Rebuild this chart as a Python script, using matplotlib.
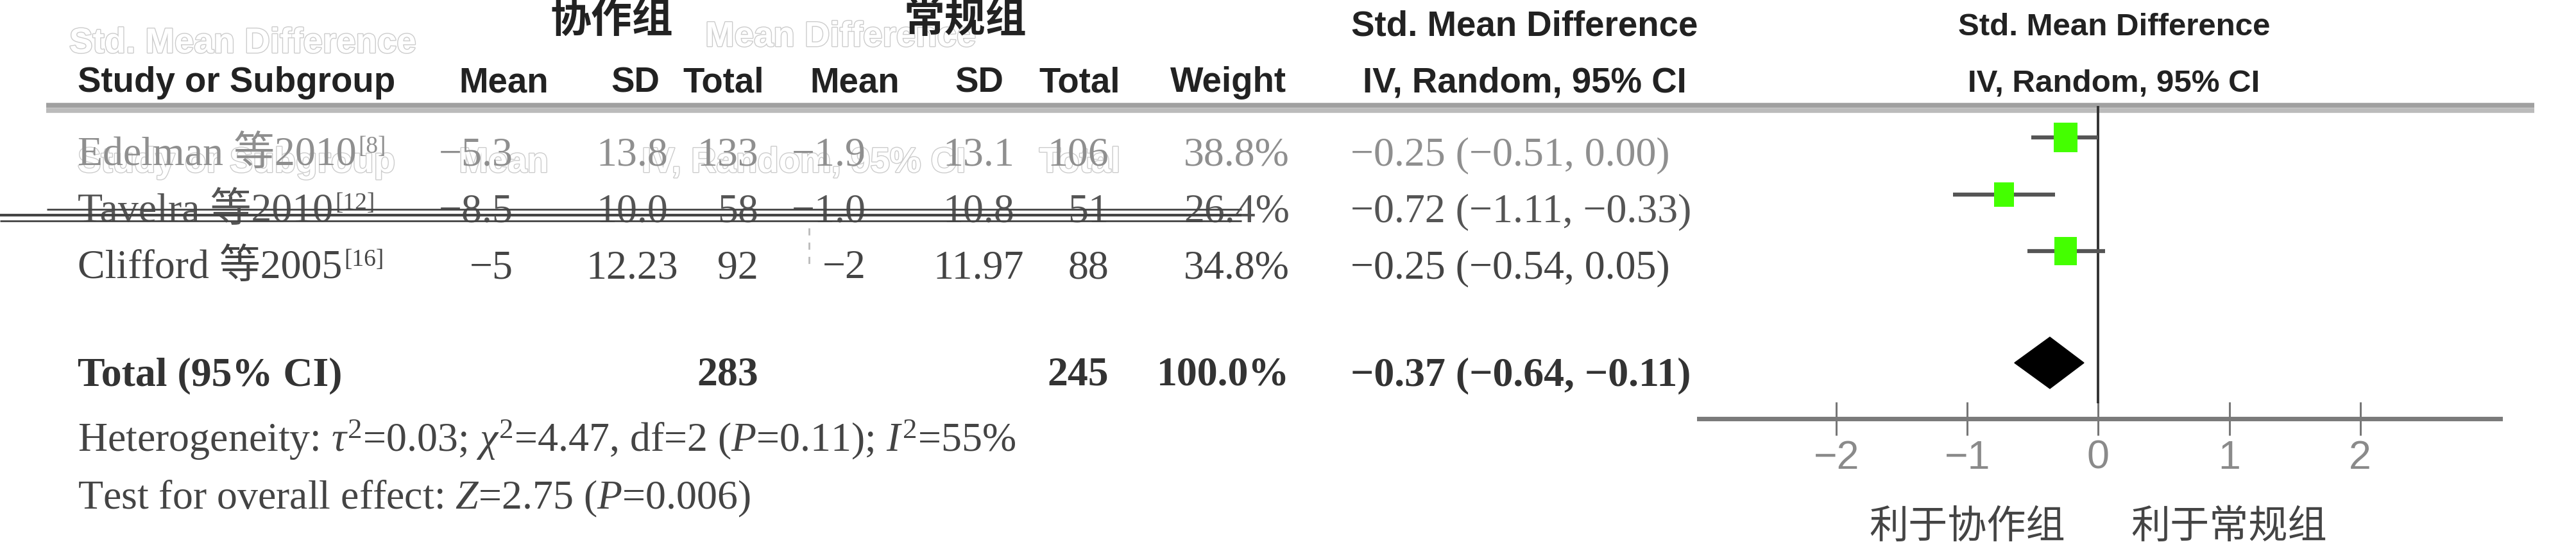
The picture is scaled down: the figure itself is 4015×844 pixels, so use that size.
import matplotlib
matplotlib.use('Agg')
import numpy as np
import matplotlib.pyplot as plt
from matplotlib import font_manager
from matplotlib.patches import Rectangle, Polygon
import matplotlib.patheffects as pe

plt.rcParams['mathtext.fontset'] = 'custom'
plt.rcParams['mathtext.rm'] = 'Liberation Serif'
plt.rcParams['mathtext.it'] = 'Liberation Serif:italic'
plt.rcParams['mathtext.bf'] = 'Liberation Serif:bold'

# data
studies = ['Edelman 等2010', 'Tavelra 等2010', 'Clifford 等2005']
study_refs = ['[8]', '[12]', '[16]']
exp_mean = ['−5.3', '−8.5', '−5']
exp_sd = ['13.8', '10.0', '12.23']
exp_n = [133, 58, 92]
ctl_mean = ['−1.9', '−1.0', '−2']
ctl_sd = ['13.1', '10.8', '11.97']
ctl_n = [106, 51, 88]
weight = [38.8, 26.4, 34.8]
smd = [-0.25, -0.72, -0.25]
ci_lo = [-0.51, -1.11, -0.54]
ci_hi = [0.00, -0.33, 0.05]
total_exp_n, total_ctl_n = 283, 245
total_smd, total_lo, total_hi = -0.37, -0.64, -0.11
heterogeneity = 'Heterogeneity: $\\tau^2$=0.03; $\\chi^2$=4.47, df=2 ($P$=0.11); $I^2$=55%'
overall = 'Test for overall effect: $Z$=2.75 ($P$=0.006)'
ticks = [-2, -1, 0, 1, 2]
favours = ['利于协作组', '利于常规组']


def fmt(v):
    return f'{v:.2f}'.replace('-', '−')


names = {f.name for f in font_manager.fontManager.ttflist}
if 'Liberation Sans Narrow' in names:
    NARROW, nscale = ['Liberation Sans Narrow'], 1.0
else:
    NARROW, nscale = ['Liberation Sans'], 0.82
SERIF = ['Liberation Serif', 'Noto Sans CJK SC']
CJK = ['Noto Sans CJK SC']

W, H = 4016, 844
fig = plt.figure(figsize=(W / 100, H / 100), dpi=100)
ax = fig.add_axes([0, 0, 1, 1])
ax.set_xlim(0, W)
ax.set_ylim(H, 0)
ax.axis('off')

hsize = 48 * nscale
ssize = 46
ghost = [pe.withStroke(linewidth=2, foreground='#cccccc')]
gkw = dict(fontsize=hsize, family=NARROW, weight='bold', color='white', path_effects=ghost, zorder=1)

# ghost remnants of overlapping text in the source image
ax.text(108, 82, 'Std. Mean Difference', **gkw)
ax.text(1310, 72, 'Mean Difference', ha='center', **gkw)
ax.text(121, 268, 'Study or Subgroup', **gkw)
ax.text(785, 268, 'Mean', ha='center', **gkw)
ax.text(1000, 268, 'IV, Random, 95% CI', **gkw)
ax.text(1683, 268, 'Total', ha='center', **gkw)

# header
ax.text(953, 50, '协作组', fontsize=46, family=CJK, weight='bold', color='#222', ha='center')
ax.text(1504, 50, '常规组', fontsize=46, family=CJK, weight='bold', color='#222', ha='center')
ax.text(2376, 55, 'Std. Mean Difference', fontsize=hsize, family=NARROW, weight='bold',
        color='#222', ha='center')
ax.text(121, 143, 'Study or Subgroup', fontsize=hsize, family=NARROW, weight='bold', color='#222')
for x, lab in [(785, 'Mean'), (990, 'SD'), (1128, 'Total'), (1332, 'Mean'),
               (1526, 'SD'), (1683, 'Total'), (1914, 'Weight'), (2376, 'IV, Random, 95% CI')]:
    ax.text(x, 143, lab, fontsize=hsize, family=NARROW, weight='bold', color='#222', ha='center')

# separator
ax.hlines(163.5, 72, 3950, color='#a0a0a0', lw=5.5)
ax.hlines(171.5, 72, 3950, color='#bbbbbb', lw=5.5)

# study rows
row_base = [257, 345, 433]
row_col = ['#8f8f8f', '#555555', '#444444']
for i in range(len(studies)):
    y, c = row_base[i], row_col[i]
    kw = dict(fontsize=ssize, family=SERIF, color=c, zorder=2)
    t = ax.text(121, y, studies[i], **kw)
    ax.annotate(study_refs[i], xy=(1, 0), xycoords=t, xytext=(2, 24), textcoords='offset points',
                fontsize=27, family=SERIF, color=c, va='baseline')
    ax.text(800, y, exp_mean[i], ha='right', **kw)
    ax.text(985, y, exp_sd[i], ha='center', **kw)
    ax.text(1182, y, str(exp_n[i]), ha='right', **kw)
    ax.text(1350, y, ctl_mean[i], ha='right', **kw)
    ax.text(1525, y, ctl_sd[i], ha='center', **kw)
    ax.text(1728, y, str(ctl_n[i]), ha='right', **kw)
    ax.text(2010, y, f'{weight[i]:.1f}%', ha='right', **kw)
    ax.text(2105, y, f'{fmt(smd[i])} ({fmt(ci_lo[i])}, {fmt(ci_hi[i])})', **kw)

# strike-through artefacts across the second row
ax.hlines([326, 335, 344], [73, 0, 0], 1935, color='#444', lw=[2, 3, 2], zorder=3)
ax.vlines(1261, 355, 415, color='#bbbbbb', lw=2, linestyles=(0, (4, 4)))

# total row
kw = dict(fontsize=ssize, family=SERIF, color='#333', weight='bold')
ax.text(121, 600, 'Total (95% CI)', **kw)
ax.text(1182, 600, str(total_exp_n), ha='right', **kw)
ax.text(1728, 600, str(total_ctl_n), ha='right', **kw)
ax.text(2010, 600, f'{sum(weight):.1f}%', ha='right', **kw)
ax.text(2105, 600, f'{fmt(total_smd)} ({fmt(total_lo)}, {fmt(total_hi)})', **kw)

ax.text(121, 703, heterogeneity, fontsize=ssize, family=SERIF, color='#444')
ax.text(121, 792, overall, fontsize=ssize, family=SERIF, color='#444')

# forest panel
axf = fig.add_axes([2648 / W, 0, 1249 / W, 1])
axf.set_xlim(-3.05, 3.07)
axf.set_ylim(H, 0)
axf.patch.set_visible(False)
for s in ['top', 'left', 'right']:
    axf.spines[s].set_visible(False)
axf.spines['bottom'].set_position(('data', 652))
axf.spines['bottom'].set_color('#7a7a7a')
axf.spines['bottom'].set_linewidth(5)
axf.set_yticks([])
axf.set_xticks(ticks)
axf.tick_params(axis='x', direction='inout', length=38, width=2.2, color='#777',
                labelsize=55 * nscale, labelcolor='#8a8a8a', pad=4)
for lbl in axf.get_xticklabels():
    lbl.set_fontfamily(NARROW)

axf.text(0.12, 55, 'Std. Mean Difference', fontsize=hsize * 0.9, family=NARROW, weight='bold',
         color='#222', ha='center')
axf.text(0.12, 143, 'IV, Random, 95% CI', fontsize=hsize * 0.9, family=NARROW, weight='bold',
         color='#222', ha='center')

axf.vlines(0, 165, 628, color='#333', lw=2.8, zorder=2)
marker_y = [214, 303, 391]
axf.hlines(marker_y, ci_lo, ci_hi, color='#555', lw=4.5, zorder=3)
for i in range(len(smd)):
    side = 5.9 * np.sqrt(weight[i])
    wd = side / 204
    ht = side * 1.27
    axf.add_patch(Rectangle((smd[i] - wd / 2, marker_y[i] - ht / 2), wd, ht,
                            facecolor='#44ff00', edgecolor='none', zorder=4))

yc = 565
axf.add_patch(Polygon([(total_lo, yc), (total_smd, yc - 40), (total_hi, yc), (total_smd, yc + 40)],
                      closed=True, facecolor='black', edgecolor='black', zorder=4))

axf.text(ticks[1], 838, favours[0], fontsize=44, family=CJK, color='#444', ha='center')
axf.text(ticks[3], 838, favours[1], fontsize=44, family=CJK, color='#444', ha='center')

fig.savefig('out.png', dpi=100)
